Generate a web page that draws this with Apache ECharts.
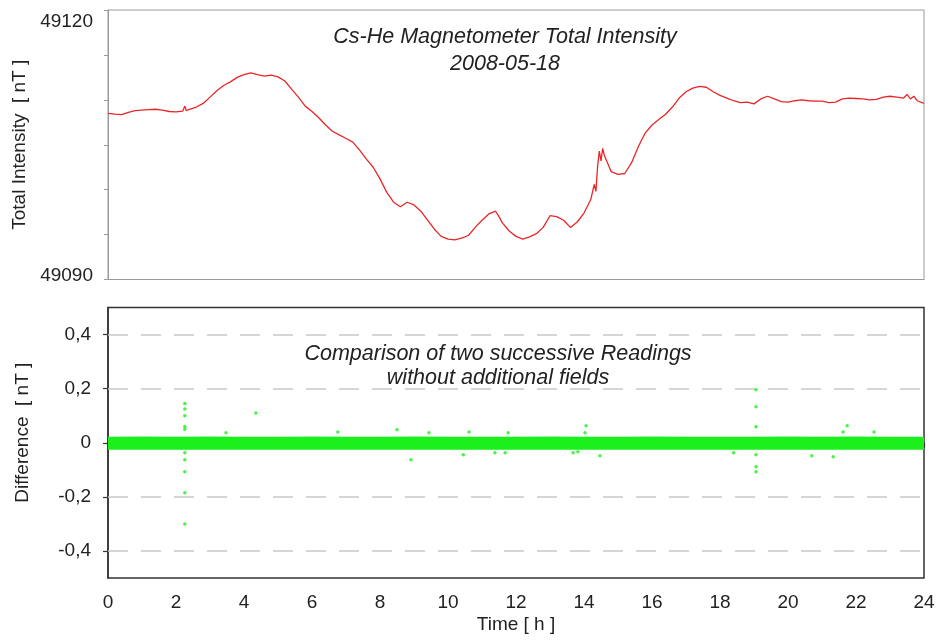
<!DOCTYPE html>
<html>
<head>
<meta charset="utf-8">
<script src="https://cdn.jsdelivr.net/npm/echarts@6/dist/echarts.min.js"></script>
<style>
html,body{margin:0;padding:0;background:#fff;}
#chart{width:938px;height:640px;}
</style>
</head>
<body>
<div id="chart"></div>
<script>
// ---- Data ----
const timeHours = [0,0.2,0.4,0.6,0.8,1.0,1.2,1.4,1.6,1.8,2.0,2.2,2.26,2.3,2.4,2.6,2.8,3.0,3.2,3.4,3.6,3.8,4.0,4.2,4.4,4.6,4.8,5.0,5.2,5.4,5.6,5.8,6.0,6.2,6.4,6.6,6.8,7.0,7.2,7.4,7.6,7.8,8.0,8.2,8.4,8.6,8.8,9.0,9.2,9.4,9.6,9.8,10.0,10.2,10.4,10.6,10.8,11.0,11.2,11.4,11.5,11.6,11.8,12.0,12.2,12.4,12.6,12.8,13.0,13.2,13.4,13.6,13.8,14.0,14.2,14.3,14.35,14.4,14.45,14.5,14.55,14.6,14.8,15.0,15.2,15.4,15.6,15.8,16.0,16.2,16.4,16.6,16.8,17.0,17.2,17.4,17.6,17.8,18.0,18.2,18.4,18.6,18.8,19.0,19.2,19.4,19.6,19.8,20.0,20.2,20.4,20.6,20.8,21.0,21.2,21.4,21.6,21.8,22.0,22.2,22.4,22.6,22.8,23.0,23.2,23.4,23.5,23.6,23.7,23.8,24.0];
const totalIntensity = [49108.5,49108.4,49108.35,49108.6,49108.8,49108.85,49108.9,49108.95,49108.85,49108.7,49108.65,49108.75,49109.3,49108.8,49108.95,49109.2,49109.6,49110.3,49111.0,49111.6,49112.0,49112.5,49112.8,49113.0,49112.8,49112.65,49112.75,49112.55,49112.1,49111.2,49110.3,49109.3,49108.7,49108.0,49107.2,49106.5,49106.1,49105.7,49105.3,49104.4,49103.4,49102.5,49101.2,49099.7,49098.6,49098.1,49098.6,49098.3,49097.6,49096.6,49095.6,49094.8,49094.5,49094.4,49094.6,49094.9,49095.8,49096.6,49097.3,49097.6,49097.0,49096.3,49095.4,49094.8,49094.5,49094.75,49095.1,49095.8,49097.1,49097.0,49096.6,49095.8,49096.4,49097.4,49098.9,49100.6,49099.8,49102.6,49104.3,49103.2,49104.6,49103.8,49102.0,49101.7,49101.8,49103.0,49104.8,49106.3,49107.2,49107.8,49108.4,49109.2,49110.2,49110.9,49111.3,49111.5,49111.4,49110.9,49110.5,49110.2,49109.9,49109.7,49109.75,49109.55,49110.1,49110.4,49110.1,49109.8,49109.75,49109.9,49110.0,49109.9,49109.85,49109.85,49109.7,49109.75,49110.1,49110.2,49110.15,49110.1,49110.0,49110.05,49110.3,49110.4,49110.3,49110.2,49110.6,49110.1,49110.4,49109.9,49109.6];

const bandTimes  = [0,1,2,3,4,5,6,7,8,9,10,11,12,13,14,15,16,17,18,19,20,21,22,23,24];
const bandValues = [-0.002,-0.001,-0.002,-0.001,-0.002,-0.002,-0.001,-0.002,-0.002,-0.001,-0.002,-0.002,-0.002,-0.001,-0.002,-0.002,-0.001,-0.002,-0.002,-0.002,-0.001,-0.002,-0.001,-0.002,-0.002];

const outlierTimes  = [2.26,2.26,2.26,2.26,2.26,2.26,2.26,2.26,2.26,2.26,3.47,4.35,6.76,8.5,8.91,9.44,10.45,10.62,11.38,11.68,11.77,13.68,13.82,14.03,14.06,14.47,18.4,19.06,19.06,19.06,19.06,19.06,19.06,20.7,21.33,21.62,21.74,22.53];
const outlierValues = [0.145,0.125,0.1,0.06,0.05,-0.037,-0.063,-0.107,-0.185,-0.30,0.037,0.11,0.04,0.048,-0.063,0.037,-0.044,0.04,-0.037,-0.037,0.037,-0.037,-0.033,0.037,0.063,-0.048,-0.037,0.196,0.133,0.059,-0.044,-0.089,-0.107,-0.048,-0.052,0.04,0.063,0.04];

const xTicks = [0,2,4,6,8,10,12,14,16,18,20,22,24];
const topYLabels = [49090, 49120];
const diffTicks = [-0.4,-0.2,0,0.2,0.4];
const diffGridLines = [-0.4,-0.2,0.2,0.4];

// ---- Chart ----
const FONT = "'Liberation Sans', Arial, sans-serif";
const chart = echarts.init(document.getElementById('chart'), null, {renderer:'canvas'});

const pairs = (xs, ys) => xs.map((x, i) => [x, ys[i]]);
const fmtDiff = v => (Math.abs(v) < 1e-9 ? '0' : v.toFixed(1).replace('.', ','));
const fmtTop = v => {
  if (v === topYLabels[1]) return '{hi|' + v + '}';
  if (v === topYLabels[0]) return '{lo|' + v + '}';
  return '';
};
const titleFont = 'italic 21.5px ' + FONT;

chart.setOption({
  animation: false,
  backgroundColor: '#fff',
  textStyle: { fontFamily: FONT },
  grid: [
    { left: 108, right: 14, top: 10, height: 269.5, show: true, borderColor: '#9a9a9a', borderWidth: 1 },
    { left: 108, right: 14, top: 307.5, height: 270.5, show: true, borderColor: '#333', borderWidth: 1.5 }
  ],
  graphic: [
    { type: 'text', x: 505, y: 37.5, style: { text: 'Cs-He Magnetometer Total Intensity', font: titleFont, fill: '#222', align: 'center', verticalAlign: 'middle' } },
    { type: 'text', x: 505, y: 64, style: { text: '2008-05-18', font: titleFont, fill: '#222', align: 'center', verticalAlign: 'middle' } },
    { type: 'text', x: 498, y: 354, style: { text: 'Comparison of two successive Readings', font: titleFont, fill: '#222', align: 'center', verticalAlign: 'middle' } },
    { type: 'text', x: 498, y: 378, style: { text: 'without additional fields', font: titleFont, fill: '#222', align: 'center', verticalAlign: 'middle' } }
  ],
  xAxis: [
    { type: 'value', gridIndex: 0, min: 0, max: 24, interval: 2,
      axisLabel: { show: false }, axisTick: { show: false },
      axisLine: { lineStyle: { color: '#9a9a9a', width: 1 } }, splitLine: { show: false } },
    { type: 'value', gridIndex: 1, min: 0, max: 24, interval: 2,
      axisLabel: { fontSize: 19, color: '#222', margin: 15, fontFamily: FONT,
        customValues: xTicks },
      axisTick: { length: 5, lineStyle: { color: '#333', width: 1.2 } },
      axisLine: { lineStyle: { color: '#333', width: 1.5 } }, splitLine: { show: false },
      name: 'Time [ h ]', nameLocation: 'middle', nameGap: 37,
      nameTextStyle: { fontSize: 19, color: '#222', fontFamily: FONT } }
  ],
  yAxis: [
    { type: 'value', gridIndex: 0, min: 49090, max: 49120, interval: 5,
      axisLabel: { fontSize: 19, color: '#222', margin: 15, fontFamily: FONT,
        formatter: fmtTop,
        rich: {
          hi: { fontSize: 19, color: '#222', fontFamily: FONT, padding: [23, 0, 0, 0] },
          lo: { fontSize: 19, color: '#222', fontFamily: FONT, padding: [0, 0, 8, 0] }
        } },
      axisTick: { length: 4, lineStyle: { color: '#9a9a9a' } },
      axisLine: { show: true, lineStyle: { color: '#9a9a9a', width: 1 } }, splitLine: { show: false },
      name: 'Total Intensity  [ nT ]', nameLocation: 'middle', nameGap: 76,
      nameTextStyle: { fontSize: 19, color: '#222', fontFamily: FONT } },
    { type: 'value', gridIndex: 1, min: -0.5, max: 0.5, interval: 0.1,
      axisLabel: { fontSize: 19, color: '#222', margin: 17, fontFamily: FONT,
        customValues: diffTicks, formatter: fmtDiff },
      axisTick: { length: 5, customValues: diffTicks, lineStyle: { color: '#333', width: 1.2 } },
      axisLine: { show: true, lineStyle: { color: '#333', width: 1.5 } }, splitLine: { show: false },
      name: 'Difference  [ nT ]', nameLocation: 'middle', nameGap: 76,
      nameTextStyle: { fontSize: 19, color: '#222', fontFamily: FONT, padding: [0, 0, 0, 20] } }
  ],
  series: [
    { name: 'Total Intensity', type: 'line', xAxisIndex: 0, yAxisIndex: 0,
      data: pairs(timeHours, totalIntensity), showSymbol: false, symbol: 'none',
      lineStyle: { color: '#e8262a', width: 1.3 }, silent: true },
    { name: 'Difference band', type: 'line', xAxisIndex: 1, yAxisIndex: 1,
      data: pairs(bandTimes, bandValues), showSymbol: false, symbol: 'none',
      lineStyle: { color: '#1cf01c', width: 13 }, silent: true, z: 3,
      markLine: { silent: true, symbol: 'none', label: { show: false }, z: 1,
        lineStyle: { type: [20, 13], color: '#c8c8c8', width: 1.5 },
        data: diffGridLines.map(v => ({ yAxis: v })) } },
    { name: 'Difference outliers', type: 'scatter', xAxisIndex: 1, yAxisIndex: 1,
      data: pairs(outlierTimes, outlierValues), symbolSize: 3.5,
      itemStyle: { color: '#1cf01c' }, silent: true, z: 4 }
  ]
});
</script>
</body>
</html>
